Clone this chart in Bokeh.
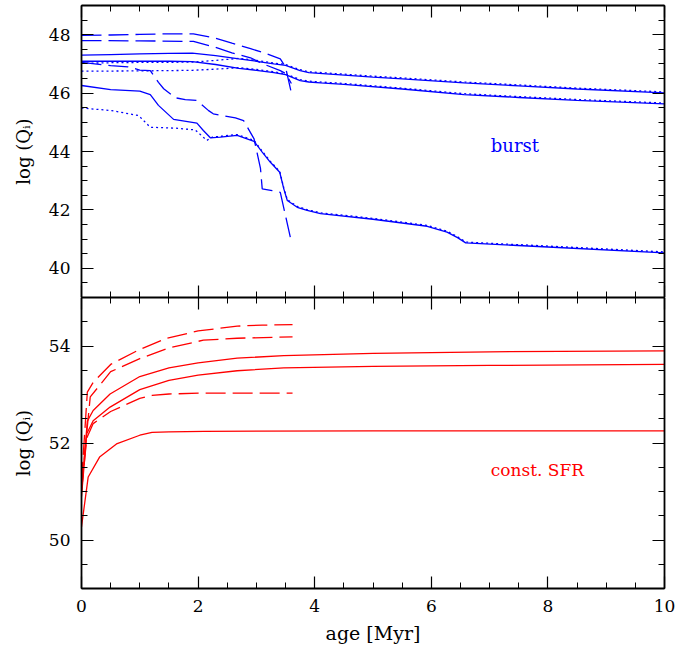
from bokeh.plotting import figure
from bokeh.layouts import column
from bokeh.models import LinearAxis, Range1d, FixedTicker, Label
from bokeh.embed import file_html
from bokeh.resources import INLINE

# ---------------- burst (top panel) ----------------
s1_age = [0, 0.5, 1.0, 1.5, 1.9, 2.3, 2.7, 3.0, 3.3, 3.5, 3.75, 3.9, 4.2, 5.0, 5.5, 6.56, 7.5, 8.5, 10.0]
s1_q = [47.30, 47.32, 47.34, 47.36, 47.37, 47.28, 47.17, 47.09, 47.00, 46.95, 46.77, 46.70, 46.66, 46.55, 46.49, 46.35, 46.25, 46.14, 46.01]

s2_age = [0, 0.5, 1.0, 1.5, 1.9, 2.3, 2.7, 3.0, 3.3, 3.5, 3.75, 3.9, 4.1, 4.5, 5.5, 6.56, 7.5, 8.5, 10.0]
s2_q = [47.09, 47.09, 47.09, 47.09, 47.08, 46.98, 46.85, 46.78, 46.70, 46.63, 46.43, 46.38, 46.35, 46.30, 46.14, 45.95, 45.85, 45.75, 45.63]

s3_age = [0, 0.5, 1.0, 1.18, 1.32, 1.58, 1.98, 2.09, 2.21, 2.38, 2.67, 2.96, 3.1, 3.24, 3.40, 3.47, 3.53, 3.70, 3.87, 4.1, 5.0, 5.93, 6.27, 6.45, 6.59, 8.0, 10.0]
s3_q = [46.26, 46.12, 46.07, 45.95, 45.58, 45.10, 44.97, 44.72, 44.47, 44.49, 44.55, 44.35, 43.98, 43.63, 43.29, 42.72, 42.32, 42.09, 41.98, 41.87, 41.68, 41.44, 41.24, 41.05, 40.87, 40.73, 40.53]

d1_age = [0, 0.5, 1.0, 1.9, 2.3, 2.7, 3.0, 3.3, 3.5, 3.75, 3.9, 4.2, 5.0, 5.5, 6.56, 7.5, 8.5, 10.0]
d1_q = [47.02, 47.04, 47.05, 47.06, 47.12, 47.19, 47.12, 47.03, 46.98, 46.80, 46.73, 46.69, 46.58, 46.52, 46.38, 46.28, 46.17, 46.04]

d2_age = [0, 1.0, 1.9, 2.3, 2.7, 3.0, 3.3, 3.5, 3.75, 3.9, 4.1, 4.5, 5.5, 6.56, 7.5, 8.5, 10.0]
d2_q = [46.75, 46.76, 46.78, 46.82, 46.87, 46.81, 46.73, 46.66, 46.46, 46.41, 46.38, 46.33, 46.17, 45.98, 45.88, 45.78, 45.66]

d3_age = [0, 0.52, 0.98, 1.18, 1.61, 1.95, 2.15, 2.24, 2.38, 2.67, 2.96, 3.1, 3.24, 3.40, 3.47, 3.53, 3.70, 3.87, 4.1, 5.0, 5.93, 6.27, 6.45, 6.59, 8.0, 10.0]
d3_q = [45.49, 45.40, 45.23, 44.83, 44.80, 44.74, 44.38, 44.49, 44.52, 44.58, 44.38, 44.01, 43.66, 43.32, 42.75, 42.35, 42.12, 42.01, 41.90, 41.71, 41.47, 41.27, 41.08, 40.90, 40.76, 40.56]

l1_age = [0, 0.5, 1.0, 1.5, 1.92, 2.3, 2.58, 2.9, 3.1, 3.41, 3.5, 3.61]
l1_q = [47.98, 47.99, 48.01, 48.03, 48.03, 47.88, 47.71, 47.52, 47.40, 47.17, 46.89, 45.92]

l2_age = [0, 1.0, 1.92, 2.3, 2.58, 2.9, 3.1, 3.41, 3.5, 3.6]
l2_q = [47.80, 47.79, 47.77, 47.57, 47.38, 47.21, 47.01, 46.77, 46.67, 46.33]

l3_age = [0, 0.5, 0.8, 1.0, 1.18, 1.32, 1.41, 1.61, 1.78, 1.98, 2.18, 2.26, 2.64, 2.78, 2.96, 3.07, 3.1, 3.27, 3.41, 3.6]
l3_q = [47.05, 46.94, 46.90, 46.79, 46.77, 46.37, 46.15, 45.84, 45.78, 45.75, 45.40, 45.29, 45.15, 45.06, 44.43, 43.42, 42.72, 42.66, 42.60, 40.90]

# ---------------- const. SFR (bottom panel) ----------------
r1_age = [0, 0.1, 0.2, 0.49, 1.0, 1.5, 2.0, 2.67, 3.47, 5.0, 7.0, 10.0]
r1_q = [51.0, 52.45, 52.67, 53.01, 53.37, 53.55, 53.65, 53.75, 53.80, 53.85, 53.88, 53.90]

r2_age = [0, 0.09, 0.2, 0.49, 1.0, 1.5, 2.0, 2.67, 3.47, 5.0, 7.0, 10.0]
r2_q = [50.9, 52.19, 52.46, 52.74, 53.10, 53.29, 53.40, 53.49, 53.55, 53.58, 53.60, 53.62]

r3_age = [0, 0.115, 0.31, 0.6, 1.0, 1.21, 1.5, 2.1, 5.0, 10.0]
r3_q = [50.27, 51.30, 51.71, 51.98, 52.16, 52.22, 52.23, 52.24, 52.25, 52.25]

ra_age = [0, 0.1, 0.2, 0.5, 1.0, 1.46, 2.0, 2.67, 3.1, 3.62]
ra_q = [51.2, 53.05, 53.25, 53.62, 53.93, 54.16, 54.31, 54.41, 54.43, 54.44]

rb_age = [0, 0.15, 0.5, 1.0, 1.5, 2.09, 2.67, 3.62]
rb_q = [51.1, 52.95, 53.47, 53.74, 53.96, 54.12, 54.16, 54.19]

rc_age = [0, 0.09, 0.2, 0.5, 1.0, 1.21, 1.5, 2.1, 3.62]
rc_q = [51.0, 52.10, 52.40, 52.65, 52.92, 52.98, 53.01, 53.03, 53.03]

# ---------------- ticks ----------------
x_major = [0, 2, 4, 6, 8, 10]
x_minor = [0, 0.5, 1, 1.5, 2, 2.5, 3, 3.5, 4, 4.5, 5, 5.5, 6, 6.5, 7, 7.5, 8, 8.5, 9, 9.5, 10]
ytop_major = [40, 42, 44, 46, 48]
ytop_minor = [39, 39.5, 40, 40.5, 41, 41.5, 42, 42.5, 43, 43.5, 44, 44.5, 45, 45.5, 46, 46.5, 47, 47.5, 48, 48.5, 49]
ybot_major = [50, 52, 54]
ybot_minor = [49, 49.5, 50, 50.5, 51, 51.5, 52, 52.5, 53, 53.5, 54, 54.5, 55]

FONT = "DejaVu Serif"
BLUE = "#0000ff"
RED = "#ff0000"
DASH = "20 7"
DOT = "2 3"
LW = 1.3


def setup_axis(ax, major, minor, show_labels):
    ax.ticker = FixedTicker(ticks=major, minor_ticks=minor)
    ax.major_tick_in = 12
    ax.major_tick_out = 0
    ax.minor_tick_in = 6
    ax.minor_tick_out = 0
    ax.axis_line_width = 1.8
    ax.axis_line_color = "black"
    ax.major_tick_line_width = 1.2
    ax.minor_tick_line_width = 1.0
    ax.major_tick_line_color = "black"
    ax.minor_tick_line_color = "black"
    ax.major_label_text_font = FONT
    ax.axis_label_text_font = FONT
    ax.axis_label_text_font_style = "normal"
    ax.axis_label_text_color = "black"
    if show_labels:
        ax.major_label_text_font_size = "17px"
        ax.major_label_standoff = 11
        ax.major_label_text_color = "black"
    else:
        ax.major_label_text_font_size = "0px"
        ax.major_label_standoff = 0
        ax.major_label_overrides = {t: "" for t in major}


def make_fig(height, yrange, ymajor, yminor, top, bottom, xlabels):
    p = figure(width=695, height=height, x_range=Range1d(0, 10), y_range=Range1d(*yrange),
               output_backend="svg", toolbar_location=None,
               min_border_left=81, min_border_right=31,
               min_border_top=top, min_border_bottom=bottom)
    p.grid.visible = False
    p.outline_line_color = None
    p.background_fill_color = "white"
    p.border_fill_color = "white"
    p.add_layout(LinearAxis(), "above")
    p.add_layout(LinearAxis(), "right")
    for ax in p.below:
        setup_axis(ax, x_major, x_minor, xlabels)
    for ax in p.above:
        setup_axis(ax, x_major, x_minor, False)
    for ax in p.left:
        setup_axis(ax, ymajor, yminor, True)
        ax.axis_label = "log (Qᵢ)"
        ax.axis_label_text_font_size = "18px"
        ax.axis_label_standoff = 12
    for ax in p.right:
        setup_axis(ax, ymajor, yminor, False)
    return p


p1 = make_fig(297, (39, 49), ytop_major, ytop_minor, 5, 0, False)
p2 = make_fig(349, (49, 55), ybot_major, ybot_minor, 0, 55, True)
for ax in p2.below:
    ax.axis_label = "age [Myr]"
    ax.axis_label_text_font_size = "19px"
    ax.axis_label_standoff = 7

# top panel lines
for xs, ys in [(s1_age, s1_q), (s2_age, s2_q), (s3_age, s3_q)]:
    p1.line(xs, ys, line_color=BLUE, line_width=LW)
for xs, ys in [(d1_age, d1_q), (d2_age, d2_q), (d3_age, d3_q)]:
    p1.line(xs, ys, line_color=BLUE, line_width=LW, line_dash=DOT)
for xs, ys in [(l1_age, l1_q), (l2_age, l2_q), (l3_age, l3_q)]:
    p1.line(xs, ys, line_color=BLUE, line_width=LW, line_dash=DASH)

# bottom panel lines
for xs, ys in [(r1_age, r1_q), (r2_age, r2_q), (r3_age, r3_q)]:
    p2.line(xs, ys, line_color=RED, line_width=LW)
for xs, ys in [(ra_age, ra_q), (rb_age, rb_q), (rc_age, rc_q)]:
    p2.line(xs, ys, line_color=RED, line_width=LW, line_dash=DASH)

p1.add_layout(Label(x=7.02, y=44.2, text="burst", text_color=BLUE, text_font=FONT,
                    text_font_size="18px", text_align="left", text_baseline="alphabetic"))
p2.add_layout(Label(x=7.02, y=51.45, text="const. SFR", text_color=RED, text_font=FONT,
                    text_font_size="17px", text_align="left", text_baseline="alphabetic"))

layout = column(p1, p2, spacing=0)
open("out.html", "w").write(file_html(layout, INLINE))
